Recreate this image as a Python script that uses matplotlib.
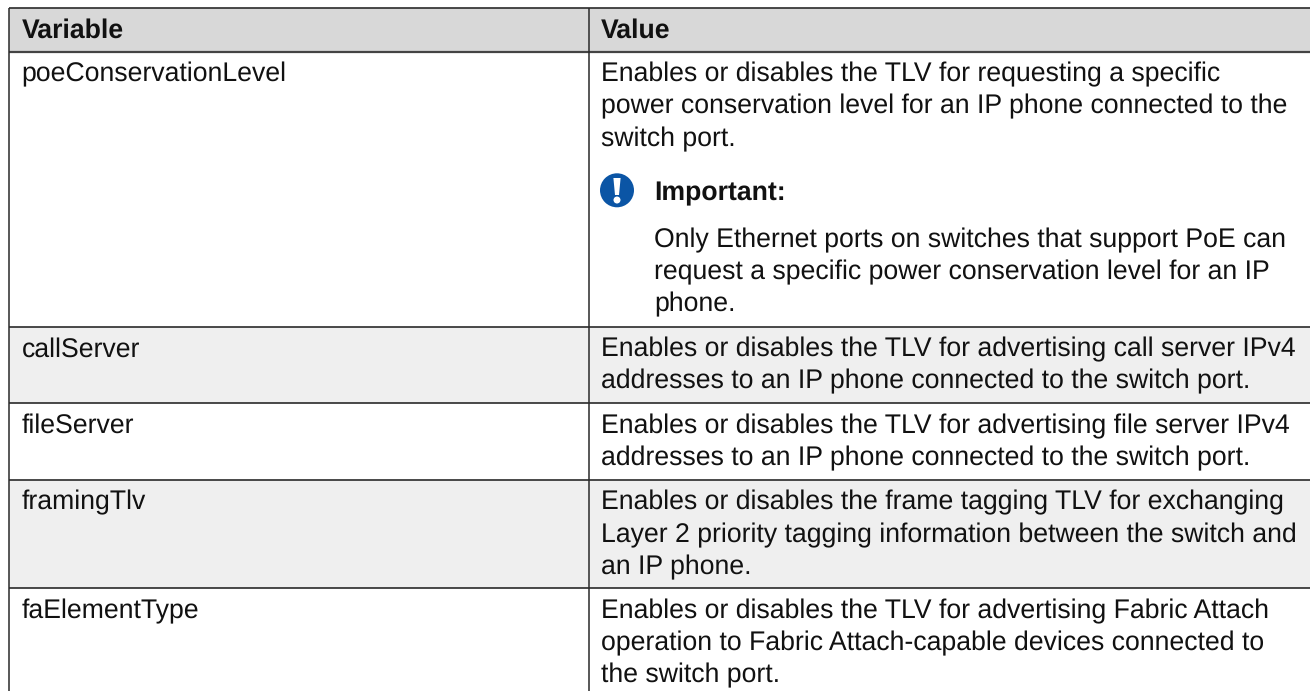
import matplotlib
matplotlib.use("Agg")
import matplotlib.pyplot as plt
from matplotlib.patches import Rectangle, Circle, Polygon

plt.rcParams['font.family'] = ['Liberation Sans', 'DejaVu Sans']
plt.rcParams['text.hinting'] = 'no_hinting'

# -------------------------
# Table content
# -------------------------
headers = ["Variable", "Value"]
variables = ["poeConservationLevel", "callServer", "fileServer", "framingTlv", "faElementType"]
values = [
    ["Enables or disables the TLV for requesting a specific",
     "power conservation level for an IP phone connected to the",
     "switch port."],
    ["Enables or disables the TLV for advertising call server IPv4",
     "addresses to an IP phone connected to the switch port."],
    ["Enables or disables the TLV for advertising file server IPv4",
     "addresses to an IP phone connected to the switch port."],
    ["Enables or disables the frame tagging TLV for exchanging",
     "Layer 2 priority tagging information between the switch and",
     "an IP phone."],
    ["Enables or disables the TLV for advertising Fabric Attach",
     "operation to Fabric Attach-capable devices connected to",
     "the switch port."],
]
note_title = "Important:"
note_lines = ["Only Ethernet ports on switches that support PoE can",
              "request a specific power conservation level for an IP",
              "phone."]

# -------------------------
# Layout (pixels)
# -------------------------
W, H = 1310, 691
left, mid, right = 9.3, 588.7, 1310
header_top, header_bot = 7.5, 51.8
row_bottoms = [326.8, 403.4, 480, 588.4, 691]
row_colors = ["white", "#efefef", "white", "#efefef", "white"]
fs = 19.2
line_h = 32.3
base_off = 29.6
text_col = "#111111"
line_col = "#2a2a2a"

fig = plt.figure(figsize=(W / 100, H / 100), dpi=100)
ax = fig.add_axes([0, 0, 1, 1])
ax.set_xlim(0, W)
ax.set_ylim(H, 0)
ax.axis("off")

# header
ax.add_patch(Rectangle((left, header_top), right - left, header_bot - header_top,
                       fc="#d8d8d8", ec="none"))
ax.text(left + 12.3, 37.3, headers[0], fontsize=fs, fontweight="bold", va="baseline", color=text_col)
ax.text(mid + 12.3, 37.3, headers[1], fontsize=fs, fontweight="bold", va="baseline", color=text_col)

# rows
top = header_bot
for name, lines, bottom, col in zip(variables, values, row_bottoms, row_colors):
    ax.add_patch(Rectangle((left, top), right - left, bottom - top, fc=col, ec="none"))
    ax.text(left + 12.3, top + base_off, name, fontsize=fs, va="baseline", color=text_col)
    for i, s in enumerate(lines):
        ax.text(mid + 12.3, top + base_off + i * line_h, s, fontsize=fs, va="baseline", color=text_col)
    top = bottom

# note inside first row
ax.add_patch(Circle((617, 190.3), 17, fc="#0b55a5", ec="none"))
ax.add_patch(Polygon([(613.4, 178), (620.6, 178), (619, 195), (615, 195)], closed=True, fc="white", ec="none"))
ax.add_patch(Circle((617, 200), 3.5, fc="white", ec="none"))
ax.text(654, 200, note_title, fontsize=fs, fontweight="bold", va="baseline", color=text_col)
for i, s in enumerate(note_lines):
    ax.text(654, 247.2 + i * line_h, s, fontsize=fs, va="baseline", color=text_col)

# grid lines
ax.plot([left, right], [header_top, header_top], color=line_col, lw=1.2, solid_capstyle="butt")
ax.plot([left, right], [header_bot, header_bot], color="#444444", lw=1.6, solid_capstyle="butt")
for y in row_bottoms[:-1]:
    ax.plot([left, right], [y, y], color=line_col, lw=1.2, solid_capstyle="butt")
for x in [left, mid]:
    ax.plot([x, x], [header_top, H], color=line_col, lw=1.1, solid_capstyle="butt")

fig.savefig("out.png", dpi=100)
